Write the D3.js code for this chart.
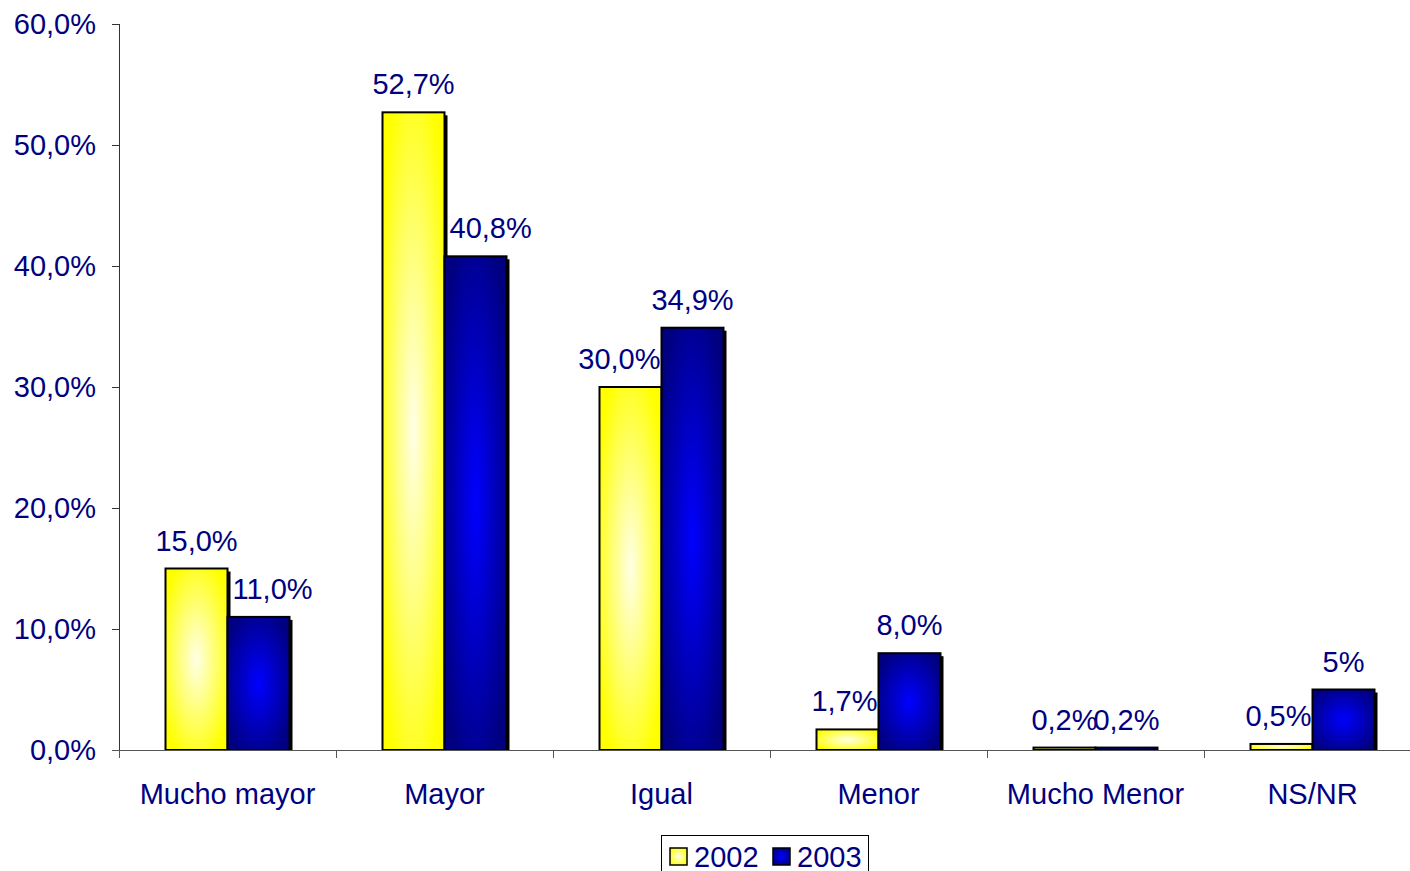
<!DOCTYPE html>
<html><head><meta charset="utf-8">
<script src="https://cdn.jsdelivr.net/npm/d3@7"></script>
<style>body{margin:0;background:#fff}svg{display:block}text{font-family:"Liberation Sans",Arial,sans-serif;fill:#000080}</style>
</head><body><svg id="c" width="1410" height="871"></svg>
<script>
const categories = ["Mucho mayor","Mayor","Igual","Menor","Mucho Menor","NS/NR"];
const series = ["2002","2003"];
const values2002 = [15.0,52.7,30.0,1.7,0.2,0.5];
const values2003 = [11.0,40.8,34.9,8.0,0.2,5.0];
const labels2002 = ["15,0%","52,7%","30,0%","1,7%","0,2%","0,5%"];
const labels2003 = ["11,0%","40,8%","34,9%","8,0%","0,2%","5%"];
const yTicks = [0,10,20,30,40,50,60];
const yTickLabels = ["0,0%","10,0%","20,0%","30,0%","40,0%","50,0%","60,0%"];

const FS = 29;
const svg = d3.select("#c");
const x0 = d3.scaleBand().domain(categories).range([119,1421]).paddingInner(0).paddingOuter(0);
const x1 = d3.scaleBand().domain(series).range([0,x0.bandwidth()]).paddingInner(0).paddingOuter(0.75);
const y = d3.scaleLinear().domain([0,60]).range([750,24]);

const defs = svg.append("defs");
function grad(id, center, edge){
  const g = defs.append("radialGradient").attr("id",id).attr("cx","50%").attr("cy","50%").attr("r","60%");
  g.append("stop").attr("offset","0%").attr("stop-color",center);
  g.append("stop").attr("offset","100%").attr("stop-color",edge);
}
grad("g2002","#ffffe6","#ffff00");
grad("g2003","#0000ff","#000080");

// y axis
const yAxis = svg.append("g");
yAxis.append("line").attr("x1",119.5).attr("x2",119.5).attr("y1",y(60)).attr("y2",y(0)).attr("stroke","#333").attr("stroke-width",1);
yAxis.selectAll("line.t").data(yTicks).enter().append("line").attr("class","t")
  .attr("x1",112).attr("x2",119).attr("y1",d=>y(d)+0.5).attr("y2",d=>y(d)+0.5).attr("stroke","#333");
yAxis.selectAll("text").data(yTicks).enter().append("text")
  .attr("x",96).attr("y",d=>y(d)).attr("dy","0.35em").attr("text-anchor","end")
  .attr("font-size",FS).text((d,i)=>yTickLabels[i]);

// bars
const data = categories.map((c,i)=>({c, vals:[{s:"2002",v:values2002[i],l:labels2002[i],o:values2003[i]},{s:"2003",v:values2003[i],l:labels2003[i],o:values2002[i]}]}));
const groups = svg.selectAll("g.cat").data(data).enter().append("g").attr("class","cat")
  .attr("transform",d=>`translate(${x0(d.c)},0)`);
groups.selectAll("rect.sh").data(d=>d.vals).enter().append("rect").attr("class","sh")
  .attr("x",d=>x1(d.s)+3).attr("y",d=>y(d.v)+3).attr("width",x1.bandwidth())
  .attr("height",d=>Math.max(0,y(0)-y(d.v)-3)).attr("fill","#000");
groups.selectAll("rect.b").data(d=>d.vals).enter().append("rect").attr("class","b")
  .attr("x",d=>x1(d.s)).attr("y",d=>y(d.v)).attr("width",x1.bandwidth())
  .attr("height",d=>y(0)-y(d.v)).attr("fill",d=>`url(#g${d.s})`).attr("stroke","#000").attr("stroke-width",2);
const LOFF = 18;
groups.selectAll("text").data(d=>d.vals).enter().append("text")
  .attr("x",d=>x1(d.s)+x1.bandwidth()/2).attr("y",d=>y(d.v)-LOFF)
  .attr("text-anchor","middle").attr("font-size",FS).text(d=>d.l)
  .each(function(d){
    // shift label sideways if it would overlap the taller neighbouring bar
    const w = this.getComputedTextLength();
    const cx = x1(d.s)+x1.bandwidth()/2;
    if (d.o > d.v && y(d.o) < y(d.v)-LOFF) {
      if (d.s === "2003") {
        const edge = x1("2002")+x1.bandwidth()+5;
        if (cx - w/2 < edge) d3.select(this).attr("x", edge + w/2);
      } else {
        const edge = x1("2003")-1;
        if (cx + w/2 > edge) d3.select(this).attr("x", edge - w/2);
      }
    }
  });

// x axis
svg.append("line").attr("x1",112).attr("x2",1410).attr("y1",750.5).attr("y2",750.5).attr("stroke","#555");
svg.selectAll("line.xt").data(categories).enter().append("line").attr("class","xt")
  .attr("x1",d=>x0(d)+0.5).attr("x2",d=>x0(d)+0.5).attr("y1",750).attr("y2",758).attr("stroke","#555");
svg.selectAll("text.xl").data(categories).enter().append("text").attr("class","xl")
  .attr("x",d=>x0(d)+x0.bandwidth()/2).attr("y",794).attr("dy","0.35em")
  .attr("text-anchor","middle").attr("font-size",FS).text(d=>d);

// legend
const lg = svg.append("g");
lg.append("rect").attr("x",661.5).attr("y",835.5).attr("width",207).attr("height",45).attr("fill","#fff").attr("stroke","#000");
const items = [{s:"2002",x:670},{s:"2003",x:773}];
items.forEach(it=>{
  lg.append("rect").attr("x",it.x).attr("y",848).attr("width",17).attr("height",17)
    .attr("fill",`url(#g${it.s})`).attr("stroke","#000").attr("stroke-width",1.5);
  lg.append("text").attr("x",it.x+24).attr("y",867).attr("font-size",FS).text(it.s);
});
</script></body></html>
